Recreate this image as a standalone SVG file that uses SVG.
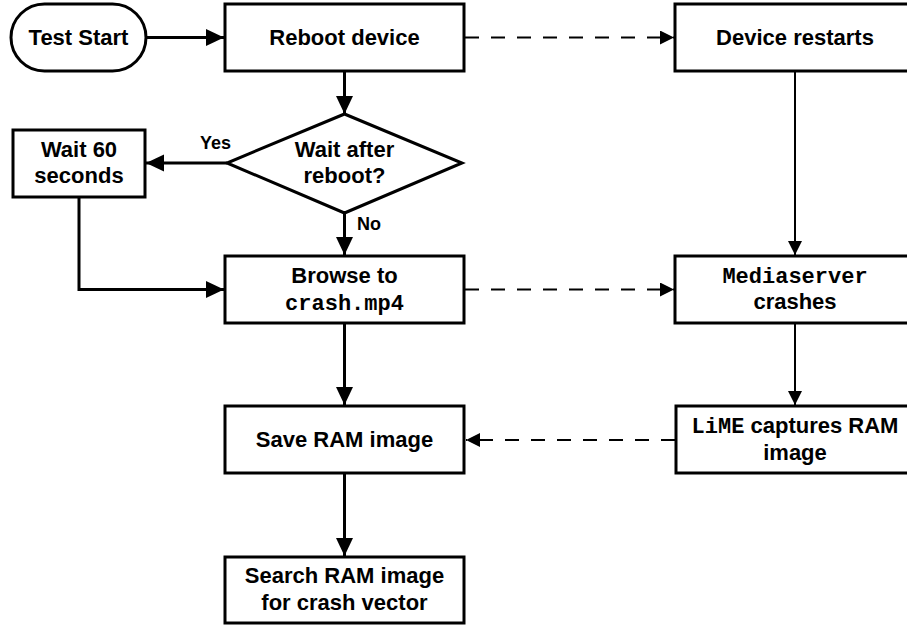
<svg xmlns="http://www.w3.org/2000/svg" width="907" height="626" viewBox="0 0 907 626">
<style>
.box{fill:#fff;stroke:#000;stroke-width:3}
.t{font-family:"Liberation Sans",Arial,sans-serif;font-weight:bold;font-size:22px;text-anchor:middle;fill:#000}
.m{font-family:"Liberation Mono","Courier New",monospace;font-weight:bold;font-size:22px}
.lbl{font-family:"Liberation Sans",Arial,sans-serif;font-weight:bold;font-size:18px;fill:#000}
.c{fill:none;stroke:#000;stroke-width:3}
.thin{fill:none;stroke:#000;stroke-width:2}
.dash{fill:none;stroke:#000;stroke-width:2;stroke-dasharray:14 12}
</style>
<defs>
<marker id="big" markerUnits="userSpaceOnUse" markerWidth="20" markerHeight="18" refX="18" refY="8.5" orient="auto">
<path d="M0,0 L18,8.5 L0,17 Z" fill="#000"/>
</marker>
<marker id="small" markerUnits="userSpaceOnUse" markerWidth="16" markerHeight="16" refX="14" refY="7" orient="auto">
<path d="M0,0 L14,7 L0,14 Z" fill="#000"/>
</marker>
</defs>
<rect width="907" height="626" fill="#fff"/>
<g id="connectors">
<line class="c" x1="146" y1="37.5" x2="224" y2="37.5" marker-end="url(#big)"/>
<line class="dash" x1="465" y1="37.5" x2="674" y2="37.5" marker-end="url(#small)"/>
<line class="c" x1="344.5" y1="71" x2="344.5" y2="114" marker-end="url(#big)"/>
<line class="c" x1="227" y1="163" x2="146" y2="163" marker-end="url(#big)"/>
<polyline class="c" points="79,197 79,289.5 224,289.5" marker-end="url(#big)"/>
<line class="c" x1="344.5" y1="213" x2="344.5" y2="255" marker-end="url(#big)"/>
<line class="c" x1="344.5" y1="323" x2="344.5" y2="405" marker-end="url(#big)"/>
<line class="c" x1="344.5" y1="473" x2="344.5" y2="556" marker-end="url(#big)"/>
<line class="thin" x1="795" y1="71" x2="795" y2="255" marker-end="url(#small)"/>
<line class="dash" x1="465" y1="289.5" x2="674" y2="289.5" marker-end="url(#small)"/>
<line class="thin" x1="795" y1="323" x2="795" y2="405" marker-end="url(#small)"/>
<line class="dash" x1="675" y1="440" x2="466" y2="440" marker-end="url(#small)"/>
<text class="lbl" x="200" y="149">Yes</text>
<text class="lbl" x="357" y="230">No</text>
</g>
<g id="test-start">
<rect class="box" x="11" y="4" width="135" height="67" rx="33.5" ry="33.5"/>
<text class="t" x="78.5" y="45">Test Start</text>
</g>
<g id="reboot-device">
<rect class="box" x="225" y="4" width="239" height="67"/>
<text class="t" x="344.5" y="45">Reboot device</text>
</g>
<g id="device-restarts">
<rect class="box" x="675" y="4" width="240" height="67"/>
<text class="t" x="795" y="45">Device restarts</text>
</g>
<g id="wait-decision">
<polygon class="box" points="344.5,114 462,163 344.5,213 227,163"/>
<text class="t" x="344.5" y="157">Wait after</text>
<text class="t" x="344.5" y="183">reboot?</text>
</g>
<g id="wait-60">
<rect class="box" x="13" y="130" width="132" height="67"/>
<text class="t" x="79" y="157">Wait 60</text>
<text class="t" x="79" y="183">seconds</text>
</g>
<g id="browse">
<rect class="box" x="225" y="256" width="239" height="67"/>
<text class="t" x="344.5" y="283">Browse to</text>
<text class="t m" x="344.5" y="310">crash.mp4</text>
</g>
<g id="mediaserver">
<rect class="box" x="675" y="256" width="240" height="67"/>
<text class="t m" x="795" y="283">Mediaserver</text>
<text class="t" x="795" y="309">crashes</text>
</g>
<g id="save-ram">
<rect class="box" x="225" y="406" width="239" height="67"/>
<text class="t" x="344.5" y="447">Save RAM image</text>
</g>
<g id="lime">
<rect class="box" x="676" y="406" width="240" height="67"/>
<text class="t" x="795" y="433"><tspan class="m">LiME</tspan> captures RAM</text>
<text class="t" x="795" y="460">image</text>
</g>
<g id="search">
<rect class="box" x="225" y="557" width="239" height="66"/>
<text class="t" x="344.5" y="583">Search RAM image</text>
<text class="t" x="344.5" y="610">for crash vector</text>
</g>
</svg>
